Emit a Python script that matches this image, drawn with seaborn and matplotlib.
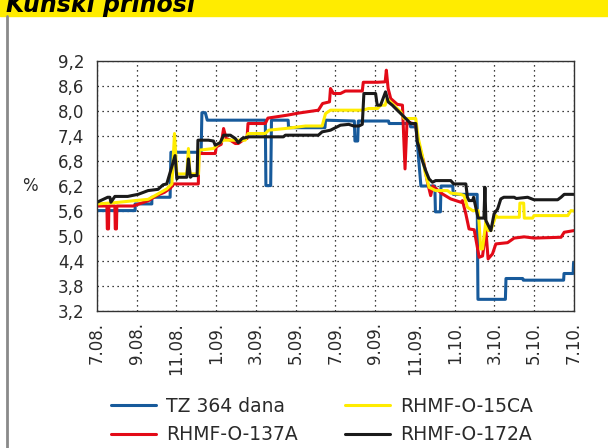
import matplotlib
matplotlib.use("Agg")
import matplotlib.pyplot as plt
import seaborn as sns
from matplotlib.patches import Rectangle
from matplotlib.lines import Line2D

# x = months since 7.08. (0..24), y = yield in %
tz_x = [0, 1.92, 1.92, 2.76, 2.76, 3.68, 3.72, 5.24, 5.28, 5.45, 5.55, 8.47, 8.50, 8.74, 8.78,
        9.62, 9.64, 11.47, 11.50, 12.95, 12.98, 13.12, 13.15, 14.67, 14.70, 15.75, 15.78, 16.05,
        16.30, 17.0, 17.03, 17.28, 17.31, 17.9, 17.93, 19.13, 19.17, 20.55, 20.58, 21.42, 21.45,
        23.48, 23.5, 23.96, 23.98, 24.0]
tz_y = [5.61, 5.61, 5.77, 5.77, 5.93, 5.93, 7.01, 7.01, 7.96, 7.96, 7.78, 7.78, 6.21, 6.21, 7.78,
        7.78, 7.6, 7.6, 7.78, 7.76, 7.28, 7.28, 7.76, 7.76, 7.70, 7.70, 7.62, 7.62,
        6.20, 6.20, 5.58, 5.58, 6.20, 6.20, 6.0, 6.0, 3.48, 3.48, 3.98, 3.98, 3.94,
        3.94, 4.1, 4.1, 4.36, 4.36]

r137_x = [0, 0.5, 0.52, 0.58, 0.6, 0.9, 0.92, 0.98, 1.0, 1.82, 2.3, 2.6, 3.0, 3.4, 3.7, 3.85,
          5.1, 5.12, 5.95, 6.0, 6.25, 6.37, 6.5, 6.71, 6.96, 7.11, 7.46, 7.55, 7.6, 8.47, 8.6,
          9.57, 10.14, 11.14, 11.35, 11.7, 11.75, 11.9, 12.25, 12.5, 13.35, 13.4, 14.1, 14.5,
          14.56, 14.65, 14.78, 15.11, 15.37, 15.5, 15.6, 16.04, 16.12, 16.44, 16.63, 16.79,
          16.9, 17.38, 17.8, 18.31, 18.39, 18.56, 18.72, 18.98, 19.23, 19.4, 19.57, 19.68,
          19.9, 20.07, 20.66, 20.99, 21.5, 21.99, 23.35, 23.51, 24.0]
r137_y = [5.72, 5.72, 5.17, 5.17, 5.72, 5.72, 5.17, 5.17, 5.72, 5.72, 5.8, 5.85, 5.97, 6.05, 6.15, 6.25,
          6.25, 6.98, 6.98, 7.14, 7.2, 7.58, 7.34, 7.3, 7.22, 7.22, 7.34, 7.34, 7.7, 7.7, 7.83,
          7.9, 7.95, 8.02, 8.18, 8.22, 8.54, 8.42, 8.42, 8.48, 8.48, 8.69, 8.69, 8.7,
          8.98, 8.54, 8.3, 8.16, 8.14, 6.61, 7.74, 7.68, 7.34, 6.77, 6.29, 5.97,
          6.2, 6.01, 5.89, 5.81, 5.85, 5.53, 5.17, 5.15, 4.49, 4.52, 5.13, 4.45,
          4.57, 4.81, 4.84, 4.95, 4.98, 4.95, 4.97, 5.09, 5.13]

r15_x = [0, 0.9, 1.92, 2.57, 2.92, 3.51, 3.77, 3.9, 4.02, 4.52, 4.6, 4.68, 5.11, 5.15, 5.86, 6.12,
         6.37, 7.46, 7.6, 8.47, 8.64, 9.48, 10.49, 11.33, 11.5, 11.75, 13.35, 13.67, 14.12, 14.27,
         14.5, 14.6, 14.8, 15.03, 15.28, 15.45, 16.04, 16.17, 16.37, 16.51, 16.71, 17.04, 17.64,
         17.8, 18.3, 18.47, 18.64, 18.9, 19.18, 19.23, 19.31, 19.4, 19.57, 19.68, 19.82, 20.07,
         20.16, 21.25, 21.28, 21.47, 21.5, 21.92, 21.99, 23.69, 23.85, 24.0]
r15_y = [5.77, 5.8, 5.85, 5.88, 5.97, 6.13, 6.25, 7.46, 6.49, 6.49, 7.1, 6.49, 6.49, 7.06, 7.1, 7.22,
         7.3, 7.3, 7.46, 7.46, 7.54, 7.58, 7.64, 7.64, 7.94, 8.02, 8.02, 8.06, 8.06, 8.14,
         8.14, 8.3, 8.2, 8.1, 7.98, 7.82, 7.82, 7.34, 6.93, 6.53, 6.17, 6.09, 6.09,
         6.03, 6.0, 5.97, 5.69, 5.61, 5.61, 5.29, 4.69, 4.69, 5.37, 5.13, 5.13, 5.49,
         5.45, 5.45, 5.79, 5.79, 5.43, 5.43, 5.49, 5.49, 5.61, 5.6]

r172_x = [0, 0.54, 0.65, 0.7, 0.9, 1.55, 1.75, 2.07, 2.57, 3.07, 3.33, 3.51, 3.93, 4.02, 4.08, 4.52,
          4.6, 4.7, 4.79, 5.04, 5.08, 5.61, 5.86, 5.95, 6.2, 6.37, 6.71, 6.96, 7.11, 7.3, 7.63,
          9.38, 9.48, 11.14, 11.33, 11.75, 12.25, 12.67, 12.92, 13.18, 13.35, 13.43, 14.02, 14.1,
          14.27, 14.52, 14.65, 14.86, 15.11, 15.37, 15.62, 15.78, 16.04, 16.12, 16.2, 16.29,
          16.37, 16.54, 16.71, 16.88, 17.04, 17.8, 17.95, 18.56, 18.64, 18.72, 18.9, 18.95,
          19.15, 19.18, 19.47, 19.52, 19.57, 19.82, 19.98, 20.16, 20.32, 20.47, 20.99, 21.1,
          21.67, 21.99, 23.18, 23.35, 23.51, 24.0]
r172_y = [5.81, 5.93, 5.93, 5.81, 5.95, 5.95, 5.97, 6.0, 6.09, 6.12, 6.23, 6.25, 6.93, 6.37, 6.41, 6.41,
          6.85, 6.41, 6.45, 6.45, 7.3, 7.3, 7.28, 7.18, 7.24, 7.42, 7.42, 7.34, 7.24, 7.34, 7.38,
          7.38, 7.42, 7.42, 7.5, 7.54, 7.66, 7.68, 7.64, 7.64, 7.68, 8.42, 8.42, 8.14,
          8.14, 8.46, 8.22, 8.14, 8.02, 7.9, 7.78, 7.7, 7.7, 7.26, 7.14, 6.93,
          6.81, 6.57, 6.37, 6.29, 6.33, 6.33, 6.25, 6.25, 5.93, 5.85, 5.85, 5.93,
          5.49, 5.43, 5.43, 6.17, 5.37, 5.13, 5.53, 5.65, 5.89, 5.93, 5.93, 5.9,
          5.93, 5.87, 5.87, 5.93, 6.0, 6.0]

series_names = ["TZ 364 dana", "RHMF-O-137A", "RHMF-O-15CA", "RHMF-O-172A"]
series_colors = ["#175a9b", "#e30a17", "#ffec00", "#1a1a1a"]

y_ticks = [3.2, 3.8, 4.4, 5.0, 5.6, 6.2, 6.8, 7.4, 8.0, 8.6, 9.2]
y_labels = ["3,2", "3,8", "4,4", "5,0", "5,6", "6,2", "6,8", "7,4", "8,0", "8,6", "9,2"]
x_ticks = [0, 2, 4, 6, 8, 10, 12, 14, 16, 18, 20, 22, 24]
x_labels = ["7.08.", "9.08.", "11.08.", "1.09.", "3.09.", "5.09.", "7.09.",
            "9.09.", "11.09.", "1.10.", "3.10.", "5.10.", "7.10."]

sns.set_style("white")
plt.rcParams['font.family'] = ['DejaVu Sans']

fig = plt.figure(figsize=(6.08, 4.48), dpi=100)
ax = fig.add_axes([0.1595, 0.3058, 0.7845, 0.558])

# header banner and left rule
fig.patches.append(Rectangle((0, 1 - 16 / 448), 1, 16 / 448, transform=fig.transFigure,
                             color="#ffec00", zorder=0))
fig.text(6 / 608, 1 - 12 / 448, "Kunski prinosi", fontsize=17, fontweight="bold",
         fontstyle="italic", va="baseline", ha="left", color="black")
fig.lines.append(Line2D([6.5 / 608, 6.5 / 608], [0, 1 - 16 / 448], transform=fig.transFigure,
                        color="#8a8a8a", linewidth=2))

all_series = [(tz_x, tz_y), (r137_x, r137_y), (r15_x, r15_y), (r172_x, r172_y)]
for (xs, ys), name, col in zip(all_series, series_names, series_colors):
    sns.lineplot(x=xs, y=ys, ax=ax, color=col, linewidth=2.2, estimator=None, sort=False,
                 label=name)

ax.set_xlim(0, 24)
ax.set_ylim(3.2, 9.2)
ax.set_yticks(y_ticks)
ax.set_yticklabels(y_labels, fontsize=12, color="#2a2a2a")
ax.set_xticks(x_ticks)
ax.set_xticklabels(x_labels, rotation=90, fontsize=12, color="#2a2a2a")
ax.tick_params(axis="both", length=0)
ax.tick_params(axis="y", pad=9)
ax.tick_params(axis="x", pad=8)
ax.grid(True, color="black", linestyle=(0, (1, 3)), linewidth=0.9)
for s in ax.spines.values():
    s.set_color("#333333")
    s.set_linewidth(1)
ax.set_ylabel("%", rotation=0, fontsize=12, color="#2a2a2a", labelpad=20, va="center")
ax.set_xlabel("")

handles, labels = ax.get_legend_handles_labels()
ax.get_legend().remove()
leg = fig.legend(handles, labels, ncol=2, loc="upper left", bbox_to_anchor=(94 / 608, 1 - 380 / 448),
                 frameon=False, fontsize=13.5, handlelength=2.4, columnspacing=2.5,
                 labelspacing=0.5, handletextpad=0.55)
for t in leg.get_texts():
    t.set_color("#2a2a2a")

fig.savefig("out.png", dpi=100)
